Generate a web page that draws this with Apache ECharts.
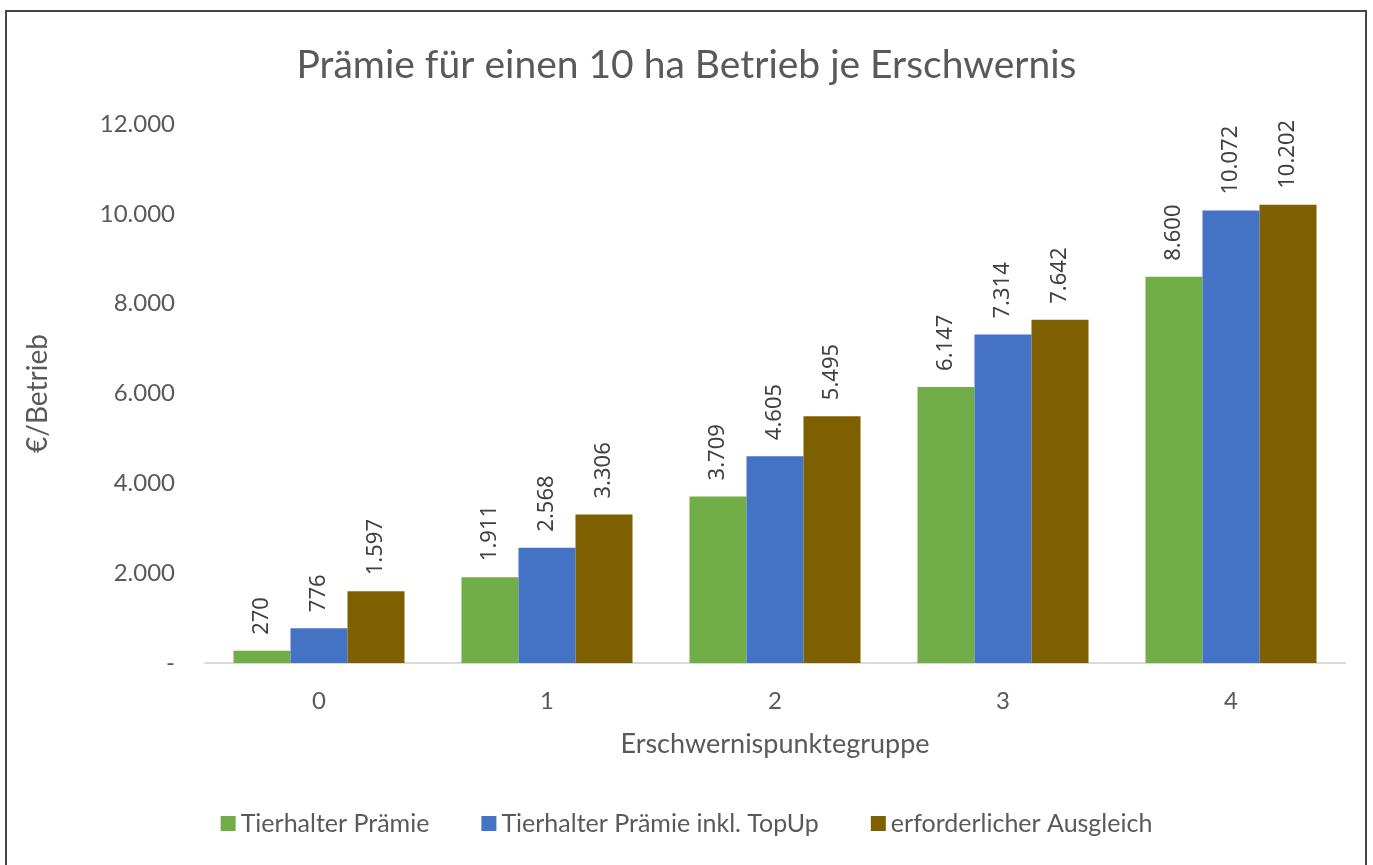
<!DOCTYPE html>
<html>
<head>
<meta charset="utf-8">
<title>Prämie für einen 10 ha Betrieb je Erschwernis</title>
<script src="https://cdn.jsdelivr.net/npm/echarts@6/dist/echarts.min.js"></script>
<style>
  html, body { margin: 0; padding: 0; background: #fff; overflow: hidden; }
  #frame { position: absolute; left: 5px; top: 10px; width: 1362px; height: 880px; border: 2px solid #444; box-sizing: border-box; }
  #chart { position: absolute; left: 0; top: 0; width: 1373px; height: 865px; }
</style>
</head>
<body>
<div id="frame"></div>
<div id="chart"></div>
<script>
  // Erschwernispunktegruppen
  const categories = ['0', '1', '2', '3', '4'];
  const seriesNames = ['Tierhalter Prämie', 'Tierhalter Prämie inkl. TopUp', 'erforderlicher Ausgleich'];
  const tierhalter = [270, 1911, 3709, 6147, 8600];
  const tierhalterTopUp = [776, 2568, 4605, 7314, 10072];
  const ausgleich = [1597, 3306, 5495, 7642, 10202];
  const colors = ['#70AD47', '#4472C4', '#7F6000'];

  const fmt = function (v) {
    return v === 0 ? '-' : Number(v).toLocaleString('de-DE');
  };

  const labelStyle = {
    show: true,
    position: 'top',
    rotate: 90,
    align: 'left',
    verticalAlign: 'middle',
    distance: 16,
    color: '#404040',
    fontFamily: 'Noto Sans',
    fontSize: 22,
    formatter: function (p) { return fmt(p.value); }
  };

  const myChart = echarts.init(document.getElementById('chart'));
  let option = {
    backgroundColor: 'transparent',
    color: colors,
    textStyle: { fontFamily: 'Lato' },
    title: {
      text: 'Prämie für einen 10 ha Betrieb je Erschwernis',
      left: 'center',
      top: 41,
      textStyle: { color: '#595959', fontSize: 39, fontWeight: 'normal', fontFamily: 'Lato' }
    },
    legend: {
      data: seriesNames,
      bottom: 24,
      left: 'center',
      itemWidth: 15,
      itemHeight: 15,
      itemGap: 52,
      icon: 'rect',
      textStyle: { color: '#595959', fontSize: 25, fontFamily: 'Lato' }
    },
    grid: {
      left: 205,
      right: 28,
      top: 124,
      bottom: 202
    },
    xAxis: {
      type: 'category',
      data: categories,
      name: 'Erschwernispunktegruppe',
      nameLocation: 'middle',
      nameGap: 68,
      nameTextStyle: { color: '#595959', fontSize: 27, fontFamily: 'Lato' },
      axisLine: { lineStyle: { color: '#d9d9d9', width: 2 } },
      axisTick: { show: false },
      axisLabel: { color: '#595959', fontSize: 24, margin: 26, fontFamily: 'Lato' }
    },
    yAxis: {
      type: 'value',
      min: 0,
      max: 12000,
      interval: 2000,
      name: '€/Betrieb',
      nameLocation: 'middle',
      nameGap: 153,
      nameTextStyle: { color: '#595959', fontSize: 28, fontFamily: 'Lato' },
      splitLine: { show: false },
      axisLine: { show: false },
      axisTick: { show: false },
      axisLabel: { color: '#595959', fontSize: 24, margin: 30, fontFamily: 'Lato', formatter: fmt }
    },
    series: [
      { name: seriesNames[0], type: 'bar', data: tierhalter, barGap: '0%', barCategoryGap: '25%', label: labelStyle },
      { name: seriesNames[1], type: 'bar', data: tierhalterTopUp, barGap: '0%', barCategoryGap: '25%', label: labelStyle },
      { name: seriesNames[2], type: 'bar', data: ausgleich, barGap: '0%', barCategoryGap: '25%', label: labelStyle }
    ]
  };
  myChart.setOption(option);
</script>
</body>
</html>
